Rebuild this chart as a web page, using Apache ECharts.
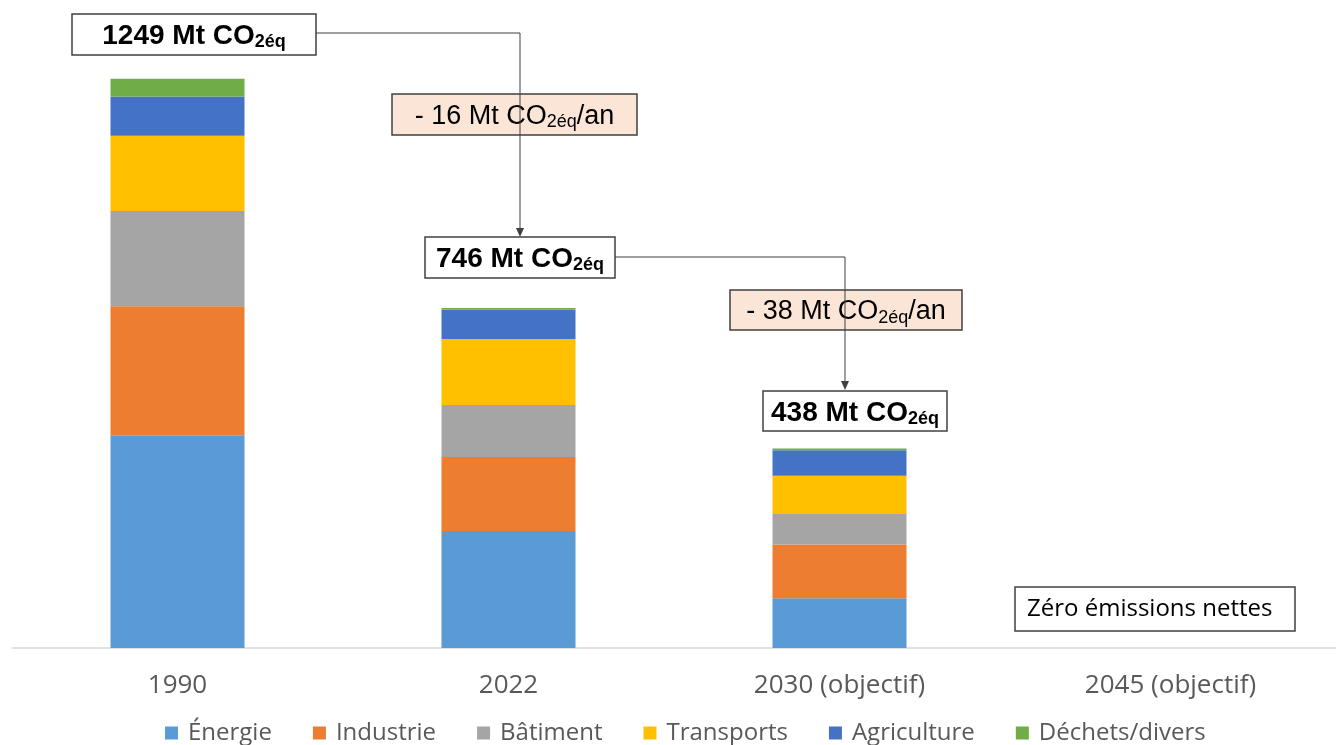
<!DOCTYPE html>
<html>
<head>
    <meta charset="utf-8">
    <title>Émissions CO2</title>
    <script src="https://cdn.jsdelivr.net/npm/echarts@6/dist/echarts.min.js"></script>
    <style>
        html, body { margin: 0; padding: 0; background: #fff; }
    </style>
</head>
<body>
    <div id="main" style="width: 1336px;height:745px;"></div>
    <script>
        // années / catégories
        var categories = ['1990', '2022', '2030 (objectif)', '2045 (objectif)'];

        // Mt CO2éq par secteur
        var energie = [467, 257, 109, 0];
        var industrie = [283, 162, 118, 0];
        var batiment = [209, 114, 67, 0];
        var transports = [165, 145, 84, 0];
        var agriculture = [86, 64, 56, 0];
        var dechets = [39, 4, 4, 0];

        var seriesNames = ['Énergie', 'Industrie', 'Bâtiment', 'Transports', 'Agriculture', 'Déchets/divers'];
        var seriesData = [energie, industrie, batiment, transports, agriculture, dechets];
        var colors = ['#5B9BD5', '#ED7D31', '#A5A5A5', '#FFC000', '#4472C4', '#70AD47'];

        var chart = echarts.init(document.getElementById('main'));

        var lineColor = '#404040';

        // boîte avec texte "xxx Mt CO2éq"
        function box(x, y, w, h, pre, post, bold, fill) {
            var size = bold ? 28 : 27;
            var sub = 18;
            var weight = bold ? 'bold' : 'normal';
            return {
                type: 'group',
                z: 10,
                children: [{
                    type: 'rect',
                    shape: { x: x, y: y, width: w, height: h },
                    style: { fill: fill, stroke: '#404040', lineWidth: 1.5 }
                }, {
                    type: 'text',
                    x: x + w / 2,
                    y: y + h / 2 + 2,
                    style: {
                        text: '{a|' + pre + '}{s|2éq}' + (post ? '{a|' + post + '}' : ''),
                        align: 'center',
                        verticalAlign: 'middle',
                        rich: {
                            a: { fontFamily: 'Liberation Sans', fontSize: size, fontWeight: weight, fill: '#000', lineHeight: 30 },
                            s: { fontFamily: 'Liberation Sans', fontSize: sub, fontWeight: weight, fill: '#000', lineHeight: 12, verticalAlign: 'bottom' }
                        }
                    }
                }]
            };
        }

        function arrow(x, y) {
            return {
                type: 'polygon',
                z: 5,
                shape: { points: [[x - 4, y - 9], [x + 4, y - 9], [x, y]] },
                style: { fill: lineColor }
            };
        }

        var option = {
            backgroundColor: '#fff',
            animation: false,
            grid: { left: 12, right: -8, top: 10, bottom: 97 },
            legend: {
                data: seriesNames,
                left: 160,
                top: 716,
                icon: 'rect',
                itemWidth: 13,
                itemHeight: 13,
                itemGap: 41,
                textStyle: { fontFamily: 'Open Sans', fontSize: 24, color: '#595959', padding: [0, 0, 0, 5] }
            },
            xAxis: {
                type: 'category',
                data: categories,
                axisLine: { lineStyle: { color: '#D9D9D9', width: 1.5 } },
                axisTick: { show: false },
                axisLabel: { margin: 25, fontFamily: 'Open Sans', fontSize: 26, color: '#595959' }
            },
            yAxis: {
                type: 'value',
                min: 0,
                max: 1400,
                show: false,
                splitLine: { show: false }
            },
            series: seriesNames.map(function (name, i) {
                return {
                    name: name,
                    type: 'bar',
                    stack: 'total',
                    barWidth: 134,
                    itemStyle: { color: colors[i] },
                    data: seriesData[i]
                };
            }),
            graphic: [
                {
                    type: 'polyline',
                    z: 5,
                    shape: { points: [[316, 33], [520, 33], [520, 230]] },
                    style: { stroke: lineColor, lineWidth: 1, fill: null }
                },
                arrow(520, 237),
                {
                    type: 'polyline',
                    z: 5,
                    shape: { points: [[615, 257], [845, 257], [845, 383]] },
                    style: { stroke: lineColor, lineWidth: 1, fill: null }
                },
                arrow(845, 390),
                box(72, 14, 244, 41, '1249 Mt CO', '', true, '#fff'),
                box(392, 94, 245, 41, '- 16 Mt CO', '/an', false, '#FBE5D6'),
                box(425, 237, 190, 41, '746 Mt CO', '', true, '#fff'),
                box(730, 290, 232, 40, '- 38 Mt CO', '/an', false, '#FBE5D6'),
                box(763, 391, 184, 40, '438 Mt CO', '', true, '#fff'),
                {
                    type: 'group',
                    z: 10,
                    children: [{
                        type: 'rect',
                        shape: { x: 1015, y: 587, width: 280, height: 44 },
                        style: { fill: '#fff', stroke: '#404040', lineWidth: 1.5 }
                    }, {
                        type: 'text',
                        x: 1027,
                        y: 609,
                        style: {
                            text: 'Zéro émissions nettes',
                            verticalAlign: 'middle',
                            fontFamily: 'Open Sans',
                            fontSize: 24,
                            fill: '#000'
                        }
                    }]
                }
            ]
        };

        chart.setOption(option);
    </script>
</body>
</html>
